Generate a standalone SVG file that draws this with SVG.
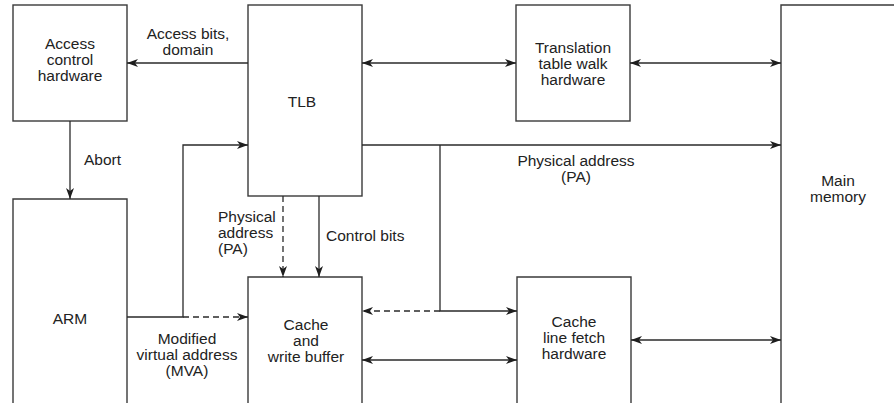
<svg xmlns="http://www.w3.org/2000/svg" width="894" height="403" viewBox="0 0 894 403">
<style>
.box{fill:none;stroke:#3a3a3a;stroke-width:1.4}
.ln{fill:none;stroke:#2a2a2a;stroke-width:1.3}
.dash{stroke-dasharray:6 4}
text{font-family:"Liberation Sans",Arial,Helvetica,sans-serif;font-size:15.5px;fill:#222}
.c{text-anchor:middle}
</style>
<defs>
<marker id="ah" markerUnits="userSpaceOnUse" markerWidth="12" markerHeight="10" refX="11" refY="4" orient="auto-start-reverse" viewBox="0 0 12 8">
<path d="M0,0 L11,4 L0,8 L3,4 z" fill="#1e1e1e"/>
</marker>
</defs>
<rect width="894" height="403" fill="#fff"/>
<g id="access-control">
<rect class="box" x="13" y="5" width="114" height="116"/>
<text class="c" x="70" y="49">Access</text>
<text class="c" x="70" y="65">control</text>
<text class="c" x="70" y="81">hardware</text>
</g>
<g id="tlb">
<rect class="box" x="248" y="5" width="114" height="191"/>
<text class="c" x="302" y="107">TLB</text>
</g>
<g id="translation-table-walk">
<rect class="box" x="516" y="5" width="114" height="116"/>
<text class="c" x="573" y="53">Translation</text>
<text class="c" x="573" y="69">table walk</text>
<text class="c" x="573" y="85">hardware</text>
</g>
<g id="main-memory">
<path class="box" d="M781,404 V5 H895"/>
<text class="c" x="838" y="186">Main</text>
<text class="c" x="838" y="202">memory</text>
</g>
<g id="arm">
<path class="box" d="M13,404 V199 H127 V404"/>
<text class="c" x="70" y="324">ARM</text>
</g>
<g id="cache-write-buffer">
<path class="box" d="M248,404 V277 H362 V404"/>
<text class="c" x="306" y="330">Cache</text>
<text class="c" x="306" y="346">and</text>
<text class="c" x="306" y="362">write buffer</text>
</g>
<g id="cache-line-fetch">
<path class="box" d="M517,404 V277 H631 V404"/>
<text class="c" x="574" y="327">Cache</text>
<text class="c" x="574" y="343">line fetch</text>
<text class="c" x="574" y="359">hardware</text>
</g>
<g id="connectors">
<path class="ln" d="M248,63 H127" marker-end="url(#ah)"/>
<path class="ln" d="M70,121 V199" marker-end="url(#ah)"/>
<path class="ln" d="M362,63 H516" marker-start="url(#ah)" marker-end="url(#ah)"/>
<path class="ln" d="M630,63 H781" marker-start="url(#ah)" marker-end="url(#ah)"/>
<path class="ln" d="M127,317 H183 V145 H248" marker-end="url(#ah)"/>
<path class="ln dash" d="M183,317 H248" marker-end="url(#ah)"/>
<path class="ln" d="M362,145 H781" marker-end="url(#ah)"/>
<path class="ln" d="M440,145 V311 H517" marker-end="url(#ah)"/>
<path class="ln dash" d="M440,311 H362" marker-end="url(#ah)"/>
<path class="ln dash" d="M283,196 V277" marker-end="url(#ah)"/>
<path class="ln" d="M319,196 V277" marker-end="url(#ah)"/>
<path class="ln" d="M362,360 H517" marker-start="url(#ah)" marker-end="url(#ah)"/>
<path class="ln" d="M631,340 H781" marker-start="url(#ah)" marker-end="url(#ah)"/>
</g>
<g id="labels">
<text class="c" x="188" y="39">Access bits,</text>
<text class="c" x="188" y="55">domain</text>
<text x="84" y="165">Abort</text>
<text class="c" x="576" y="166">Physical address</text>
<text class="c" x="576" y="182">(PA)</text>
<text x="218" y="222">Physical</text>
<text x="218" y="238">address</text>
<text x="218" y="254">(PA)</text>
<text x="326" y="241">Control bits</text>
<text class="c" x="187" y="344">Modified</text>
<text class="c" x="187" y="360">virtual address</text>
<text class="c" x="187" y="376">(MVA)</text>
</g>
</svg>
